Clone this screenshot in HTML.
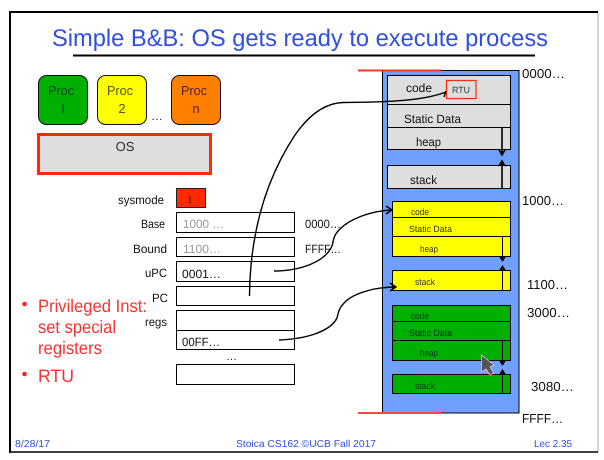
<!DOCTYPE html>
<html><head><meta charset="utf-8"><style>
html,body{margin:0;padding:0;background:#fff;width:604px;height:460px;overflow:hidden}
svg{display:block}
text{font-family:"Liberation Sans",sans-serif;font-size:11px;fill:#111;text-rendering:geometricPrecision}
</style></head><body>
<svg width="604" height="460" viewBox="0 0 604 460" xmlns="http://www.w3.org/2000/svg">
<rect width="604" height="460" fill="#fff"/>
<!-- frame -->
<line x1="598" y1="12" x2="598" y2="452" stroke="#aaa" stroke-width="1"/>
<line x1="10" y1="11" x2="10" y2="453" stroke="#000" stroke-width="2"/>
<line x1="9" y1="12" x2="598" y2="12" stroke="#000" stroke-width="2"/>
<line x1="9" y1="452" x2="598" y2="452" stroke="#000" stroke-width="1.5"/>
<!-- title -->
<text x="52" y="46" style="font-size:24px;fill:#2f4fe0" textLength="496" lengthAdjust="spacingAndGlyphs">Simple B&amp;B: OS gets ready to execute process</text>
<line x1="73" y1="55.5" x2="535" y2="55.5" stroke="#000" stroke-width="2"/>
<!-- procs -->
<rect x="38.5" y="75.5" width="49" height="49" rx="8" fill="#00b000" stroke="#111"/>
<rect x="97.5" y="75.5" width="49" height="49" rx="8" fill="#ffff00" stroke="#111"/>
<rect x="171.5" y="75.5" width="49" height="49" rx="8" fill="#ff7f00" stroke="#111"/>
<text x="61" y="95" style="font-size:13px;fill:#043" text-anchor="middle" textLength="26" lengthAdjust="spacingAndGlyphs">Proc</text>
<text x="63" y="113" style="font-size:13px;fill:#043" text-anchor="middle">I</text>
<text x="120" y="95" style="font-size:13px;fill:#550" text-anchor="middle" textLength="26" lengthAdjust="spacingAndGlyphs">Proc</text>
<text x="122" y="113" style="font-size:13px;fill:#550" text-anchor="middle">2</text>
<text x="194" y="95" style="font-size:13px;fill:#522" text-anchor="middle" textLength="26" lengthAdjust="spacingAndGlyphs">Proc</text>
<text x="196" y="113" style="font-size:13px;fill:#522" text-anchor="middle">n</text>
<text x="151" y="120" style="font-size:12px">…</text>
<rect x="38.5" y="134.5" width="172" height="39" fill="#dedede" stroke="#ff2a00" stroke-width="3"/>
<text x="125" y="151" style="font-size:13px;fill:#333" text-anchor="middle">OS</text>
<!-- registers -->
<rect x="176.5" y="188.5" width="29" height="19" fill="#ff2a00" stroke="#222"/>
<text x="190" y="204" style="font-size:12px;fill:#511" text-anchor="middle">I</text>
<g fill="#fff" stroke="#000">
<rect x="176.5" y="212.5" width="118" height="20"/>
<rect x="176.5" y="237.5" width="118" height="19"/>
<rect x="176.5" y="261.5" width="118" height="20"/>
<rect x="176.5" y="286.5" width="118" height="19"/>
<rect x="176.5" y="310.5" width="118" height="20"/>
<rect x="176.5" y="330.5" width="118" height="19"/>
<rect x="176.5" y="364.5" width="118" height="20"/>
</g>
<text x="118" y="204" style="font-size:12px" textLength="46" lengthAdjust="spacingAndGlyphs">sysmode</text>
<text x="141" y="228" style="font-size:12px" textLength="24" lengthAdjust="spacingAndGlyphs">Base</text>
<text x="133" y="253" style="font-size:12px" textLength="34" lengthAdjust="spacingAndGlyphs">Bound</text>
<text x="145" y="277" style="font-size:12px" textLength="22" lengthAdjust="spacingAndGlyphs">uPC</text>
<text x="152" y="302" style="font-size:12px" textLength="16" lengthAdjust="spacingAndGlyphs">PC</text>
<text x="145" y="326" style="font-size:12px" textLength="22" lengthAdjust="spacingAndGlyphs">regs</text>
<text x="183" y="228" style="font-size:12px;fill:#999" textLength="41" lengthAdjust="spacingAndGlyphs">1000 …</text>
<text x="183" y="253" style="font-size:12px;fill:#999" textLength="38" lengthAdjust="spacingAndGlyphs">1100…</text>
<text x="182" y="278" style="font-size:12px" textLength="39" lengthAdjust="spacingAndGlyphs">0001…</text>
<text x="182" y="346" style="font-size:12px" textLength="38" lengthAdjust="spacingAndGlyphs">00FF…</text>
<text x="226" y="360" style="font-size:11px">…</text>
<text x="305" y="228" style="font-size:12px" textLength="36" lengthAdjust="spacingAndGlyphs">0000…</text>
<text x="305" y="253" style="font-size:12px" textLength="36" lengthAdjust="spacingAndGlyphs">FFFF…</text>
<!-- red bullets -->
<circle cx="24.5" cy="304" r="2.3" fill="#ff2020"/>
<circle cx="24.5" cy="374" r="2.3" fill="#ff2020"/>
<text x="38" y="312" style="font-size:18px;fill:#ff3030" textLength="109" lengthAdjust="spacingAndGlyphs">Privileged Inst:</text>
<text x="38" y="333" style="font-size:18px;fill:#ff3030" textLength="78" lengthAdjust="spacingAndGlyphs">set special</text>
<text x="38" y="354" style="font-size:18px;fill:#ff3030" textLength="64" lengthAdjust="spacingAndGlyphs">registers</text>
<text x="38" y="382" style="font-size:18px;fill:#ff3030" textLength="36" lengthAdjust="spacingAndGlyphs">RTU</text>
<!-- memory -->
<rect x="382.5" y="70.5" width="136.5" height="342.5" fill="#6f9fff" stroke="#000"/>
<g fill="#dedede" stroke="#000">
<rect x="387.5" y="75.5" width="123" height="29"/>
<rect x="387.5" y="104.5" width="123" height="23"/>
<rect x="387.5" y="127.5" width="123" height="22"/>
<rect x="387.5" y="165.5" width="123" height="23"/>
</g>
<g fill="#ffff00" stroke="#000">
<rect x="392.5" y="201.5" width="118" height="16"/>
<rect x="392.5" y="217.5" width="118" height="19"/>
<rect x="392.5" y="236.5" width="118" height="20"/>
<rect x="392.5" y="270.5" width="118" height="20"/>
</g>
<g fill="#00b000" stroke="#000">
<rect x="392.5" y="305.5" width="118" height="16"/>
<rect x="392.5" y="321.5" width="118" height="19"/>
<rect x="392.5" y="340.5" width="118" height="20"/>
<rect x="392.5" y="374.5" width="118" height="19"/>
</g>
<!-- red lines -->
<line x1="358" y1="70.5" x2="441" y2="70.5" stroke="#ff3a20" stroke-width="2"/>
<line x1="358" y1="413" x2="441" y2="413" stroke="#ff4a40" stroke-width="2"/>
<!-- memory labels -->
<text x="406" y="92" style="font-size:12px" textLength="26" lengthAdjust="spacingAndGlyphs">code</text>
<text x="404" y="123" style="font-size:12px" textLength="57" lengthAdjust="spacingAndGlyphs">Static Data</text>
<text x="416" y="146" style="font-size:12px" textLength="25" lengthAdjust="spacingAndGlyphs">heap</text>
<text x="410" y="184" style="font-size:12px" textLength="27" lengthAdjust="spacingAndGlyphs">stack</text>
<text x="411" y="215" style="font-size:9px;fill:#332" textLength="18" lengthAdjust="spacingAndGlyphs">code</text>
<text x="409" y="232" style="font-size:9px;fill:#332" textLength="43" lengthAdjust="spacingAndGlyphs">Static Data</text>
<text x="420" y="252" style="font-size:9px;fill:#332" textLength="18" lengthAdjust="spacingAndGlyphs">heap</text>
<text x="415" y="285" style="font-size:9px;fill:#332" textLength="20" lengthAdjust="spacingAndGlyphs">stack</text>
<text x="411" y="319" style="font-size:9px;fill:#032" textLength="18" lengthAdjust="spacingAndGlyphs">code</text>
<text x="409" y="336" style="font-size:9px;fill:#032" textLength="43" lengthAdjust="spacingAndGlyphs">Static Data</text>
<text x="420" y="356" style="font-size:9px;fill:#032" textLength="18" lengthAdjust="spacingAndGlyphs">heap</text>
<text x="415" y="389" style="font-size:9px;fill:#032" textLength="20" lengthAdjust="spacingAndGlyphs">stack</text>
<rect x="446.5" y="80.5" width="29.5" height="18" fill="#dedede" stroke="#ff2a00" stroke-width="1.2"/>
<text x="452" y="93" style="font-size:9px;fill:#333" textLength="18" lengthAdjust="spacingAndGlyphs">RTU</text>
<!-- address labels -->
<text x="522" y="78" style="font-size:13px" textLength="43" lengthAdjust="spacingAndGlyphs">0000…</text>
<text x="522" y="205" style="font-size:13px" textLength="42" lengthAdjust="spacingAndGlyphs">1000…</text>
<text x="527" y="289" style="font-size:13px" textLength="41" lengthAdjust="spacingAndGlyphs">1100…</text>
<text x="527" y="317" style="font-size:13px" textLength="43" lengthAdjust="spacingAndGlyphs">3000…</text>
<text x="531" y="391" style="font-size:13px" textLength="43" lengthAdjust="spacingAndGlyphs">3080…</text>
<text x="522" y="423" style="font-size:13px" textLength="41" lengthAdjust="spacingAndGlyphs">FFFF…</text>
<!-- heap/stack arrows -->
<g stroke="#000" fill="#000">
<line x1="502" y1="127" x2="502" y2="152" stroke-width="1.6"/>
<path d="M498.5 150 L502 156 L505.5 150 L502 152 Z" stroke-width="0.6"/>
<line x1="502" y1="162" x2="502" y2="188" stroke-width="1.6"/>
<path d="M498.5 166 L502 160 L505.5 166 L502 164 Z" stroke-width="0.6"/>
<line x1="502.5" y1="236" x2="502.5" y2="258" stroke-width="1"/>
<path d="M499 256 L502.5 261.5 L506 256 L502.5 258 Z" stroke-width="0.6"/>
<line x1="502.5" y1="268" x2="502.5" y2="290" stroke-width="1"/>
<path d="M499 271 L502.5 265.5 L506 271 L502.5 269 Z" stroke-width="0.6"/>
<line x1="502.5" y1="340" x2="502.5" y2="362" stroke-width="1"/>
<path d="M499 360 L502.5 365.5 L506 360 L502.5 362 Z" stroke-width="0.6"/>
<line x1="502.5" y1="372" x2="502.5" y2="393" stroke-width="1"/>
<path d="M499 375 L502.5 369.5 L506 375 L502.5 373 Z" stroke-width="0.6"/>
</g>
<!-- connectors -->
<g fill="none" stroke="#000" stroke-width="1.4">
<path d="M249.5 296 C250 240 262 185 295 135 C311 112 327 103 343 102.5 C380 102 420 102 446 92"/>
<path d="M444 97 L446 91"/>
<path d="M274 271 C300 271 325 262 332 246 C334 239 333 236 340 229 C350 219 370 211 392 210"/>
<path d="M386 206 L392 210 L386 214"/>
<path d="M279 340 C305 339 330 332 337 318 C339 310 339 308 346 301 C355 293 375 287 396 287"/>
<path d="M390 283 L396 287 L390 291"/>
</g>
<!-- cursor -->
<path d="M481.5 355 L481.5 372 L486 369 L490 375 L493.5 373 L490 367 L494 365 Z" fill="#555" stroke="#ddd" stroke-width="0.7"/>
<!-- footer -->
<text x="15" y="447" style="font-size:10px;fill:#2f4fe0" textLength="35" lengthAdjust="spacingAndGlyphs">8/28/17</text>
<text x="236" y="447" style="font-size:10px;fill:#2f4fe0" textLength="140" lengthAdjust="spacingAndGlyphs">Stoica CS162 ©UCB Fall 2017</text>
<text x="534" y="447" style="font-size:10px;fill:#2f4fe0" textLength="38" lengthAdjust="spacingAndGlyphs">Lec 2.35</text>
</svg>
</body></html>
